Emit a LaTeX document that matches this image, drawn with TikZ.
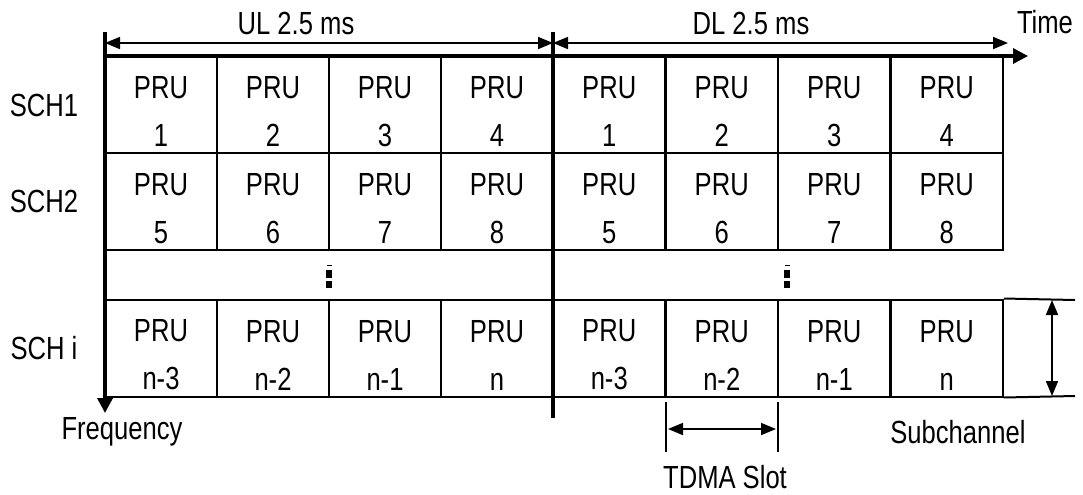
\documentclass[tikz,border=0pt]{standalone}
\usepackage{fontspec}
\setmainfont{Liberation Sans}[FakeStretch=0.8]
\usetikzlibrary{arrows.meta}
\tikzset{
	cell/.style={draw, line width=1pt, minimum width=56.125pt, minimum height=48.5pt,
		inner sep=0pt, align=center, text height=42pt, font=\fontsize{16}{24}\selectfont},
	lbl/.style={inner sep=0pt, font=\fontsize{16}{18}\selectfont},
	axis/.style={line width=1.7pt, -{Triangle[length=7.5pt,width=7.5pt]}},
	bar/.style={line width=1.7pt},
	dim/.style={line width=0.85pt, {Triangle[length=7.5pt,width=6pt]}-{Triangle[length=7.5pt,width=6pt]}},
	tick/.style={line width=0.6pt},
}
\begin{document}
\begin{tikzpicture}[x=0.5pt,y=-0.5pt]
		\useasboundingbox (0,0) rectangle (1083,494);
		% PRU cells, UL and DL
		\foreach \r/\y/\a in {1/104.5/1, 2/201.5/5}
		{
			\foreach \c in {0,...,3}
			{
				\pgfmathtruncatemacro{\n}{\a+\c}
				\node[cell] (ul\r\c) at (161+112*\c,\y) {PRU\\\n};
				\node[cell] (dl\r\c) at (609.25+112.5*\c,\y) {PRU\\\n};
			}
		}
		\foreach \c/\t in {0/n-3,1/n-2,2/n-1,3/n}
		{
			\node[cell] (uli\c) at (161+112*\c,348) {PRU\\\t};
			\node[cell] (dli\c) at (609.25+112.5*\c,348) {PRU\\\t};
		}
		% dots
		\foreach \x in {329,787}
		{
			\fill (\x-2.5,264.5) rectangle (\x+2.5,265.5);
			\fill (\x-3,270) rectangle (\x+3,278);
			\fill (\x-3,281) rectangle (\x+3,288);
		}
		% axes
		\coordinate (ftop) at (105,32);
		\coordinate (fend) at (105,413);
		\coordinate (tstart) at (105,56);
		\coordinate (tend) at (1028,56);
		\coordinate (mtop) at (553,32);
		\coordinate (mbot) at (553,418);
		\draw[axis] (ftop) -- (fend);
		\draw[axis] (tstart) -- (tend);
		\draw[bar] (mtop) -- (mbot);
		% UL / DL durations
		\coordinate (ula) at (105,43);
		\coordinate (ulb) at (553,43);
		\coordinate (dlb) at (1008,43);
		\draw[dim] (ula) -- (ulb);
		\draw[dim] (ulb) -- (dlb);
		\node[lbl] (ul) at (296,23) {UL 2.5 ms};
		\node[lbl] (dl) at (751,23) {DL 2.5 ms};
		\node[lbl] (time) at (1045,22) {Time};
		% subchannel labels
		\node[lbl] (sch1) at (44,105) {SCH1};
		\node[lbl] (sch2) at (44,201) {SCH2};
		\node[lbl] (schi) at (44,348) {SCH i};
		\node[lbl] (freq) at (122,432) {Frequency};
		% TDMA slot
		\coordinate (sa) at (666,402);
		\coordinate (sb) at (666,452);
		\coordinate (sc) at (778,402);
		\coordinate (sd) at (778,452);
		\draw[tick] (sa) -- (sb);
		\draw[tick] (sc) -- (sd);
		\draw[dim] (668,429) -- (776,429);
		\node[lbl] (slot) at (725,477) {TDMA Slot};
		% subchannel width
		\coordinate (wa) at (1075,300);
		\coordinate (wb) at (1075,396);
		\draw[line width=1pt] (dli3.north east) -- (wa);
		\draw[line width=1pt] (dli3.south east) -- (wb);
		\draw[dim] (1052,300) -- (1052,396);
		\node[lbl] (sub) at (958,432) {Subchannel};
\end{tikzpicture}
\end{document}
